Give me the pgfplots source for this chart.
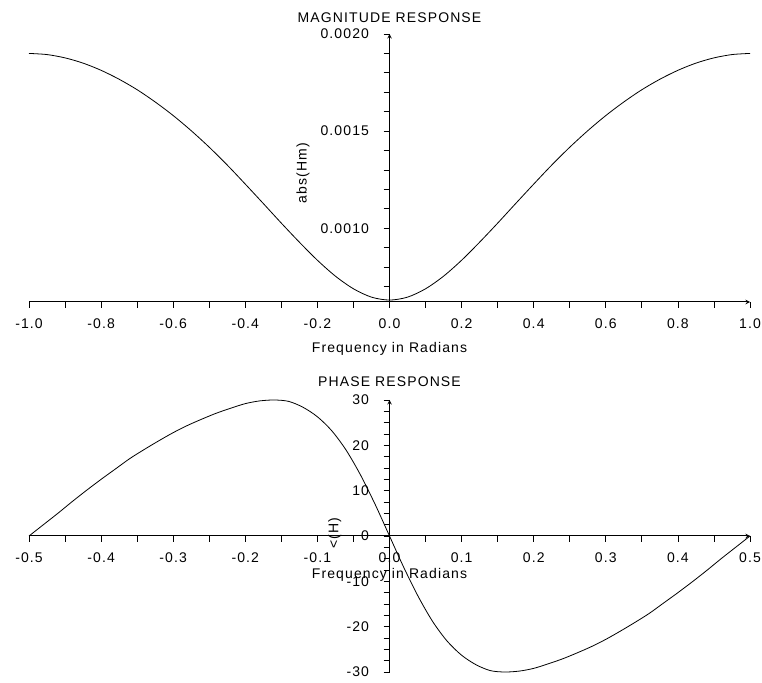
\documentclass[border=0pt]{standalone}
\usepackage{pgfplots}
\pgfplotsset{compat=1.18}
\usepackage{fontspec}
\setmainfont{Liberation Sans}[LetterSpace=8]
\pgfplotstableread{
x v
-1.00 0.001900
-0.95 0.001894
-0.90 0.001877
-0.85 0.001850
-0.80 0.001813
-0.75 0.001767
-0.70 0.001713
-0.65 0.001650
-0.60 0.001580
-0.55 0.001502
-0.50 0.001417
-0.45 0.001325
-0.40 0.001227
-0.35 0.001127
-0.30 0.001026
-0.25 0.000928
-0.20 0.000835
-0.15 0.000753
-0.10 0.000688
-0.05 0.000645
0.00 0.000630
0.05 0.000645
0.10 0.000688
0.15 0.000753
0.20 0.000835
0.25 0.000928
0.30 0.001026
0.35 0.001127
0.40 0.001227
0.45 0.001325
0.50 0.001417
0.55 0.001502
0.60 0.001580
0.65 0.001650
0.70 0.001713
0.75 0.001767
0.80 0.001813
0.85 0.001850
0.90 0.001877
0.95 0.001894
1.00 0.001900
}\magtable
\pgfplotstableread{
x p
-0.50 0.0
-0.48 2.5
-0.46 5.0
-0.44 7.6
-0.42 10.1
-0.40 12.5
-0.38 14.8
-0.36 17.1
-0.34 19.1
-0.32 21.0
-0.30 22.8
-0.28 24.4
-0.26 25.8
-0.24 27.1
-0.22 28.2
-0.20 29.2
-0.18 29.8
-0.16 30.0
-0.14 29.7
-0.12 28.4
-0.10 26.3
-0.08 23.2
-0.06 18.9
-0.04 13.4
-0.02 7.0
0.00 0.0
0.02 -7.0
0.04 -13.4
0.06 -18.9
0.08 -23.2
0.10 -26.3
0.12 -28.4
0.14 -29.7
0.16 -30.0
0.18 -29.8
0.20 -29.2
0.22 -28.2
0.24 -27.1
0.26 -25.8
0.28 -24.4
0.30 -22.8
0.32 -21.0
0.34 -19.1
0.36 -17.1
0.38 -14.8
0.40 -12.5
0.42 -10.1
0.44 -7.6
0.46 -5.0
0.48 -2.5
0.50 0.0
}\phasetable
\pgfplotsset{
  scilab/.style={
    scale only axis, width=721bp, anchor=south west,
    axis line style={-, line width=1bp, black},
    tick style={black, line width=0.8bp},
    major tick length=6bp, minor tick length=6bp,
    hide obscured x ticks=false, hide obscured y ticks=false,
    scaled x ticks=false, scaled y ticks=false,
    clip=false,
    font=\fontsize{14bp}{16bp}\selectfont,
    every tick label/.append style={font=\fontsize{14bp}{16bp}\selectfont, black},
    xticklabel style={yshift=-7bp},
    yticklabel style={xshift=-11bp},
  }
}
\begin{document}
\begin{tikzpicture}
\path[use as bounding box, fill=white] (0,0) rectangle (762bp,683bp);
\begin{axis}[scilab,
  at={(29bp,381bp)}, height=268bp,
  xmin=-1, xmax=1, ymin=0.00062, ymax=0.0020,
  axis x line=bottom, axis y line=middle,
  xtick align=outside, ytick align=outside,
  xtick={-1,-0.8,-0.6,-0.4,-0.2,0,0.2,0.4,0.6,0.8,1},
  xticklabels={-1.0,-0.8,-0.6,-0.4,-0.2,0.0,0.2,0.4,0.6,0.8,1.0},
  minor xtick={-0.9,-0.7,-0.5,-0.3,-0.1,0.1,0.3,0.5,0.7,0.9},
  ytick={0.001,0.0015,0.002},
  yticklabels={0.0010,0.0015,0.0020},
  minor ytick={0.0007,0.0008,0.0009,0.0011,0.0012,0.0013,0.0014,0.0016,0.0017,0.0018,0.0019},
  title={MAGNITUDE RESPONSE},
  every axis title/.style={at={(axis description cs:0.5,1.06)}, anchor=center},
  xlabel={Frequency in Radians},
  every axis x label/.style={at={(axis description cs:0.5,-0.175)}, anchor=center},
  ylabel={abs(Hm)},
  every axis y label/.style={at={(axis description cs:0.38,0.481)}, anchor=center, rotate=90},
]
\addplot[black, line width=0.8bp, smooth] table[x=x, y=v] {\magtable};
\end{axis}
\begin{axis}[scilab,
  at={(29bp,11bp)}, height=272bp,
  xmin=-0.5, xmax=0.5, ymin=-30, ymax=30,
  axis x line=middle, axis y line=middle,
  xtick align=outside, ytick align=outside,
  xtick={-0.5,-0.4,-0.3,-0.2,-0.1,0,0.1,0.2,0.3,0.4,0.5},
  xticklabels={-0.5,-0.4,-0.3,-0.2,-0.1,0.0,0.1,0.2,0.3,0.4,0.5},
  minor xtick={-0.45,-0.35,-0.25,-0.15,-0.05,0.05,0.15,0.25,0.35,0.45},
  ytick={-30,-20,-10,0,10,20,30},
  yticklabels={-30,-20,-10,0,10,20,30},
  minor ytick={-27.5,-25,-22.5,-17.5,-15,-12.5,-7.5,-5,-2.5,2.5,5,7.5,12.5,15,17.5,22.5,25,27.5},
  title={PHASE RESPONSE},
  every axis title/.style={at={(axis description cs:0.5,1.066)}, anchor=center},
  xlabel={Frequency in Radians},
  every axis x label/.style={at={(axis description cs:0.5,0.357)}, anchor=center},
  ylabel={\textless(H)},
  every axis y label/.style={at={(axis description cs:0.424,0.511)}, anchor=center, rotate=90},
]
\addplot[black, line width=0.8bp, smooth] table[x=x, y=p] {\phasetable};
\end{axis}
\end{tikzpicture}
\end{document}
